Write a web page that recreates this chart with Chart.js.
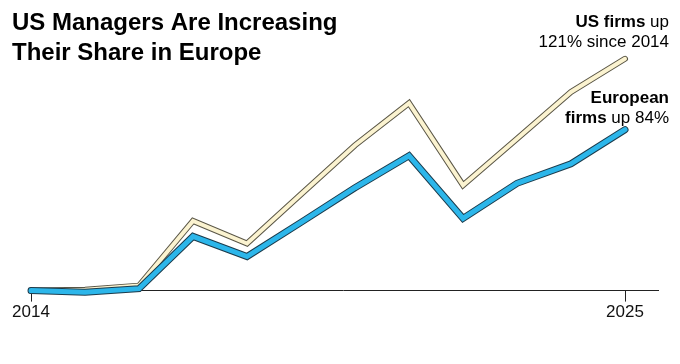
<!DOCTYPE html>
<html>
<head>
<meta charset="utf-8">
<script src="https://cdn.jsdelivr.net/npm/chart.js@4"></script>
<style>
  html, body { margin: 0; padding: 0; background: #fff; }
  #wrap { width: 680px; height: 364px; }
</style>
</head>
<body>
<div id="wrap"><canvas id="chart" width="680" height="364"></canvas></div>
<script>
// years on the x axis, and % change since 2014 for each group
var years = [2014, 2015, 2016, 2017, 2018, 2019, 2020, 2021, 2022, 2023, 2024, 2025];
var usFirms = [0, 0.5, 2.6, 36.4, 24.6, 50.3, 75.9, 97.9, 55, 79.3, 103.7, 121];
var euroFirms = [0, -0.9, 1.0, 28.3, 17.8, 35.6, 53.7, 70.4, 37.7, 56, 66.2, 84];
var tickYears = [2014, 2025];

var titleLines = ["US Managers Are Increasing", "Their Share in Europe"];
var usNote = [[["US firms", true], [" up", false]], [["121% since 2014", false]]];
var euNote = [[["European", true]], [["firms", true], [" up 84%", false]]];

var FONT = "'Liberation Sans', Arial, sans-serif";

function pts(vals) {
  return years.map(function (y, i) { return { x: y, y: vals[i] }; });
}

function lineSet(vals, color, width, order) {
  return {
    data: pts(vals),
    borderColor: color,
    borderWidth: width,
    pointRadius: 0,
    tension: 0,
    borderCapStyle: 'round',
    borderJoinStyle: 'miter',
    clip: false,
    order: order
  };
}

// draws a right aligned line made of bold / regular pieces
function richLine(ctx, parts, right, y, size) {
  var total = 0;
  parts.forEach(function (p) {
    ctx.font = (p[1] ? 'bold ' : '') + size + 'px ' + FONT;
    total += ctx.measureText(p[0]).width;
  });
  var x = right - total;
  parts.forEach(function (p) {
    ctx.font = (p[1] ? 'bold ' : '') + size + 'px ' + FONT;
    ctx.fillText(p[0], x, y);
    x += ctx.measureText(p[0]).width;
  });
}

var textPlugin = {
  id: 'texts',
  afterDraw: function (chart) {
    var ctx = chart.ctx;
    ctx.save();
    ctx.fillStyle = '#000';
    ctx.textBaseline = 'alphabetic';
    ctx.textAlign = 'left';
    ctx.font = 'bold 24px ' + FONT;
    ctx.fillText(titleLines[0], 12, 30);
    ctx.fillText(titleLines[1], 12, 60);

    usNote.forEach(function (l, i) { richLine(ctx, l, 669, 27 + i * 20, 17); });
    euNote.forEach(function (l, i) { richLine(ctx, l, 669, 103 + i * 20, 17); });
    ctx.restore();
  }
};

var ctx = document.getElementById('chart').getContext('2d');
var chart = new Chart(ctx, {
  type: 'line',
  data: {
    datasets: [
      lineSet(euroFirms, '#2cb6ea', 5, 0),
      lineSet(euroFirms, '#1b3b4c', 7, 1),
      lineSet(usFirms, '#fbf3d0', 4, 2),
      lineSet(usFirms, '#5a5646', 6, 3)
    ]
  },
  options: {
    responsive: false,
    animation: false,
    layout: { padding: { top: 50, left: 28, right: 22, bottom: 40 } },
    plugins: { legend: { display: false }, tooltip: { enabled: false } },
    scales: {
      x: {
        type: 'linear',
        min: 2013.944,
        max: 2025.611,
        afterBuildTicks: function (axis) {
          axis.ticks = tickYears.map(function (v) { return { value: v }; });
        },
        ticks: {
          callback: function (v) { return String(v); },
          color: '#111',
          font: { family: FONT, size: 17 },
          padding: 1,
          maxRotation: 0,
          autoSkip: false
        },
        grid: { drawOnChartArea: false, drawTicks: true, tickLength: 11, color: '#222' },
        border: { display: true, color: '#222', width: 1 }
      },
      y: {
        display: false,
        min: 0,
        max: 125.6
      }
    }
  },
  plugins: [textPlugin]
});
</script>
</body>
</html>
